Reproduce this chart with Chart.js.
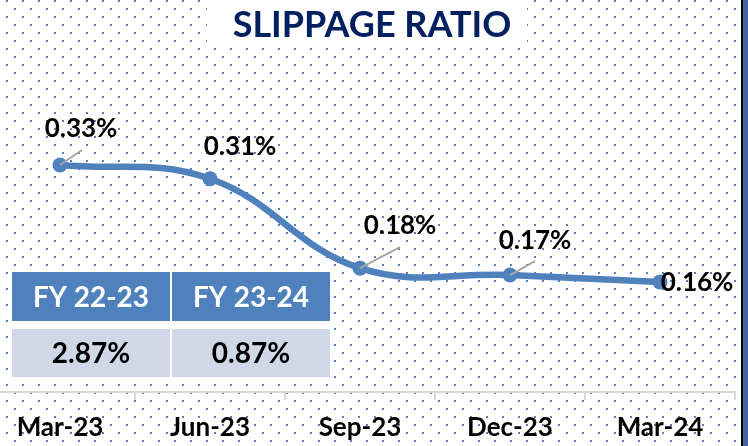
<!DOCTYPE html>
<html>
<head>
<meta charset="utf-8">
<script src="https://cdn.jsdelivr.net/npm/chart.js@4"></script>
<style>
  html, body { margin: 0; padding: 0; background: #fff; overflow: hidden; }
  body { width: 748px; height: 446px; position: relative; }
  #chart { position: absolute; left: -15px; top: 0; }
</style>
</head>
<body>
<canvas id="chart" width="765" height="446"></canvas>
<script>
const quarters = ["Mar-23", "Jun-23", "Sep-23", "Dec-23", "Mar-24"];
const slippage = [0.33, 0.31, 0.18, 0.17, 0.16];
const fyLabels = ["FY 22-23", "FY 23-24"];
const fyValues = ["2.87%", "0.87%"];
const chartTitle = "SLIPPAGE RATIO";

const SHIFT = 15; // canvas is pushed 15px left so the first category is cut
const blue = "#4f81bd";
const font = "Lato, 'Open Sans', sans-serif";

// label placement relative to each point: [dx, baselineDy, leaderDx, leaderDy]
const labelPos = [
  [21, -28, 22, -15],
  [30, -24, 0, 0],
  [40, -34, 40, -21],
  [25, -26, 25, -14],
  [37, 9, 0, 0],
];

const dotsBackground = {
  id: "dotsBackground",
  beforeDraw(chart) {
    const ctx = chart.ctx;
    ctx.save();
    ctx.fillStyle = "#fff";
    ctx.fillRect(0, 0, chart.width, chart.height);
    ctx.fillStyle = "#4f81bd";
    for (let y = 0; y < chart.height; y += 8) {
      const off = (y / 8) % 2 === 0 ? 6 : 14;
      for (let px = off; px < 748; px += 16) {
        ctx.fillRect(px + SHIFT, y, 2, 2);
      }
    }
    // title box
    ctx.fillStyle = "#fff";
    ctx.fillRect(207 + SHIFT, 0, 320, 47);
    ctx.fillStyle = "#002060";
    ctx.font = "bold 36px " + font;
    ctx.textAlign = "center";
    ctx.textBaseline = "alphabetic";
    ctx.fillText(chartTitle, 372 + SHIFT, 37);

    // FY summary table
    ctx.fillStyle = "#fff";
    ctx.fillRect(9 + SHIFT, 266, 324, 116);
    fyLabels.forEach((lab, i) => {
      const x = 12 + i * 160 + SHIFT;
      ctx.fillStyle = blue;
      ctx.fillRect(x, 272, 158, 49);
      ctx.fillStyle = "#d0d8e8";
      ctx.fillRect(x, 329, 158, 48);
      ctx.font = "bold 28px " + font;
      ctx.fillStyle = "#fff";
      ctx.fillText(lab, x + 79, 307);
      ctx.fillStyle = "#000";
      ctx.fillText(fyValues[i], x + 79, 363);
    });
    ctx.restore();
  },
  afterDraw(chart) {
    const ctx = chart.ctx;
    ctx.save();
    ctx.fillStyle = "#000";
    ctx.fillRect(741 + SHIFT, 0, 2, chart.height);
    ctx.fillStyle = "#44689a";
    ctx.fillRect(743 + SHIFT, 0, 10, chart.height);
    ctx.restore();
  }
};

const pointLabels = {
  id: "pointLabels",
  afterDatasetsDraw(chart) {
    const ctx = chart.ctx;
    const meta = chart.getDatasetMeta(0);
    ctx.save();
    meta.data.forEach((pt, i) => {
      const [dx, dy, lx, ly] = labelPos[i];
      if (lx || ly) {
        ctx.strokeStyle = "#a6a6a6";
        ctx.lineWidth = 2;
        ctx.beginPath();
        ctx.moveTo(pt.x, pt.y);
        ctx.lineTo(pt.x + lx, pt.y + ly);
        ctx.stroke();
      }
      ctx.fillStyle = "#000";
      ctx.font = "bold 26px " + font;
      ctx.textAlign = "center";
      ctx.textBaseline = "alphabetic";
      ctx.fillText(slippage[i].toFixed(2) + "%", pt.x + dx, pt.y + dy);
    });
    ctx.restore();
  }
};

new Chart(document.getElementById("chart"), {
  type: "line",
  data: {
    labels: quarters,
    datasets: [{
      data: slippage,
      borderColor: blue,
      backgroundColor: blue,
      borderWidth: 6.5,
      tension: 0.4,
      pointRadius: 7.5,
      pointBorderWidth: 0,
      fill: false,
    }],
  },
  options: {
    responsive: false,
    devicePixelRatio: 1,
    animation: false,
    layout: { autoPadding: false, padding: { top: 48, right: 15, left: 0, bottom: 0 } },
    plugins: { legend: { display: false }, tooltip: { enabled: false }, title: { display: false } },
    scales: {
      x: {
        offset: true,
        afterFit(scale) {
          scale.height = 54;
          scale.paddingLeft = 0;
          scale.paddingRight = 0;
        },
        grid: { offset: true, drawOnChartArea: false, drawTicks: true, tickLength: 8, color: "#d9d9d9", lineWidth: 2 },
        border: { color: "#d9d9d9", width: 2 },
        ticks: { color: "#000", font: { family: font, size: 26, weight: "bold" }, padding: 12, maxRotation: 0 },
      },
      y: {
        display: false,
        min: 0,
        max: 0.5,
      },
    },
  },
  plugins: [dotsBackground, pointLabels],
});
</script>
</body>
</html>
